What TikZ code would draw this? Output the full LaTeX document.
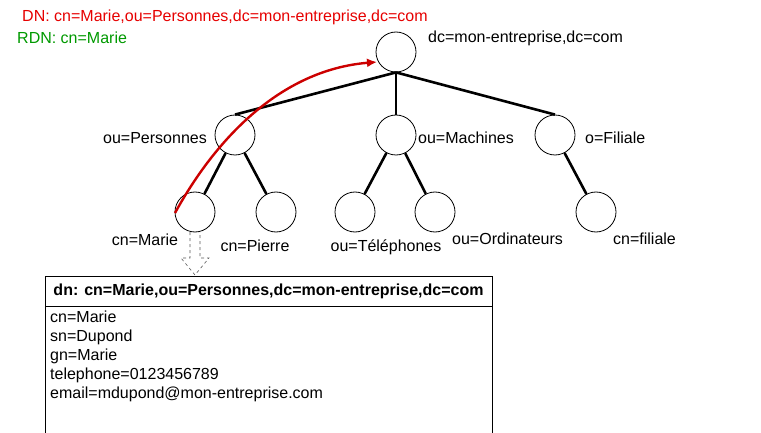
\documentclass[tikz,border=0pt]{standalone}
\usepackage{fontspec}
\setmainfont{Liberation Sans}
\usetikzlibrary{arrows.meta}
\begin{document}
\begin{tikzpicture}[x=1pt,y=-1pt,
  nd/.style={circle,draw,line width=0.8pt,minimum size=40pt,inner sep=0pt},
  edge/.style={line width=2.6pt},
  lbl/.style={font=\fontsize{16}{18}\selectfont,inner sep=0pt}]
\useasboundingbox (0,0) rectangle (761,433);
\node[nd] (root) at (396,52) {};
\node[nd] (pers) at (235,135) {};
\node[nd] (mach) at (396,135) {};
\node[nd] (fil) at (555,135) {};
\node[nd] (marie) at (195,212) {};
\node[nd] (pierre) at (276,212) {};
\node[nd] (tel) at (355,212) {};
\node[nd] (ord) at (435,212) {};
\node[nd] (filiale) at (596,212) {};
\draw[edge] (root.south) -- (pers.north);
\draw[edge] (root.south) -- (fil.north);
\foreach \a/\b in {root/mach,pers/marie,pers/pierre,mach/tel,mach/ord,fil/filiale}
  \draw[edge] (\a) -- (\b);
\node[lbl,anchor=west] (l0) at (428,38) {dc=mon-entreprise,dc=com};
\node[lbl] (l1) at (155,138) {ou=Personnes};
\node[lbl,anchor=west] (l2) at (418,138) {ou=Machines};
\node[lbl,anchor=west] (l3) at (585,138) {o=Filiale};
\node[lbl] (l4) at (145,240) {cn=Marie};
\node[lbl] (l5) at (255,246) {cn=Pierre};
\node[lbl] (l6) at (386,247) {ou=Téléphones};
\node[lbl,anchor=west] (l7) at (452,239) {ou=Ordinateurs};
\node[lbl,anchor=west] (l8) at (613,239) {cn=filiale};
\node[lbl,anchor=west,text={rgb,255:red,230;green,0;blue,0}] (dn) at (22,17) {DN: cn=Marie,ou=Personnes,dc=mon-entreprise,dc=com};
\node[lbl,anchor=west,text={rgb,255:red,0;green,153;blue,0}] (rdn) at (17,38) {RDN: cn=Marie};
\coordinate (s) at (175,213);
\coordinate (e) at (377,62);
\draw[red!80!black,line width=2.4pt,-{Latex[length=10pt,width=9pt]}] (s) .. controls (215,140) and (280,70) .. (e);
\draw[dashed,gray!70!black,line width=0.6pt] (190,232) -- (190,258) -- (181,258) -- (195,275) -- (209,258) -- (200,258) -- (200,232);
\draw[line width=1pt] (45,433) -- (45,276) -- (492,276) -- (492,433);
\draw[line width=1pt] (45,306) -- (492,306);
\node[font=\bfseries\fontsize{16}{18}\selectfont] (hd) at (268.5,291) {dn: cn=Marie,ou=Personnes,dc=mon-entreprise,dc=com};
\node[lbl,anchor=north west,align=left,font=\fontsize{16}{19}\selectfont] (attrs) at (50,311) {cn=Marie\\sn=Dupond\\gn=Marie\\telephone=0123456789\\email=mdupond@mon-entreprise.com};
\end{tikzpicture}
\end{document}
